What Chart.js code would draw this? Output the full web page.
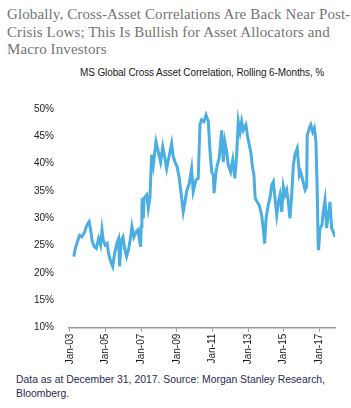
<!DOCTYPE html>
<html>
<head>
<meta charset="utf-8">
<script src="https://cdn.jsdelivr.net/npm/chart.js@4/dist/chart.umd.min.js"></script>
<style>
  html, body { margin: 0; padding: 0; background: #fff; }
  body { width: 351px; height: 408px; position: relative; overflow: hidden; }
  #title { position: absolute; left: 7px; top: 6px; width: 345px; font-family: "Liberation Serif", serif; font-size: 15px; letter-spacing: 0.12px; line-height: 17.5px; color: #747474; white-space: nowrap; }
  #subtitle { position: absolute; left: 0; top: 67px; width: 404px; text-align: center; font-family: "Liberation Sans", Arial, sans-serif; font-size: 10px; letter-spacing: -0.1px; color: #1a1a1a; white-space: nowrap; }
  #note { position: absolute; left: 16px; top: 373px; font-family: "Liberation Sans", Arial, sans-serif; font-size: 10.4px; line-height: 13.5px; color: #2a2a55; white-space: nowrap; }
  #wrap { position: absolute; left: 0; top: 95px; width: 351px; height: 275px; }
</style>
</head>
<body>
<div id="title">Globally, Cross-Asset Correlations Are Back Near Post-<br>Crisis Lows; This Is Bullish for Asset Allocators and<br>Macro Investors</div>
<div id="subtitle">MS Global Cross Asset Correlation, Rolling 6-Months, %</div>
<div id="wrap"><canvas id="c" width="351" height="275"></canvas></div>
<div id="note">Data as at December 31, 2017. Source: Morgan Stanley Research,<br>Bloomberg.</div>
<script>
const years = [
  2003.22, 2003.30, 2003.45, 2003.54, 2003.67, 2003.83, 2003.92, 2004.01, 2004.08, 2004.16,
  2004.24, 2004.35, 2004.48, 2004.61, 2004.72, 2004.80, 2004.87, 2004.98, 2005.09, 2005.17,
  2005.29, 2005.40, 2005.51, 2005.66, 2005.73, 2005.79, 2005.88, 2005.98, 2006.07, 2006.18,
  2006.30, 2006.41, 2006.48, 2006.59, 2006.71, 2006.82, 2006.89, 2006.97, 2007.00, 2007.04,
  2007.06, 2007.12, 2007.16, 2007.31, 2007.40, 2007.49, 2007.59, 2007.68, 2007.83, 2007.96,
  2008.09, 2008.21, 2008.33, 2008.43, 2008.58, 2008.71, 2008.80, 2008.90, 2009.02, 2009.14,
  2009.27, 2009.36, 2009.46, 2009.55, 2009.70, 2009.83, 2009.92, 2010.07, 2010.20, 2010.30,
  2010.39, 2010.52, 2010.64, 2010.77, 2010.86, 2010.96, 2011.05, 2011.09, 2011.20, 2011.27,
  2011.38, 2011.52, 2011.61, 2011.70, 2011.80, 2011.89, 2012.02, 2012.14, 2012.26, 2012.36,
  2012.45, 2012.55, 2012.64, 2012.73, 2012.88, 2012.96, 2013.07, 2013.15, 2013.26, 2013.33,
  2013.40, 2013.52, 2013.63, 2013.76, 2013.85, 2013.93, 2014.01, 2014.13, 2014.23, 2014.33,
  2014.42, 2014.51, 2014.61, 2014.70, 2014.79, 2014.89, 2014.98, 2015.07, 2015.17, 2015.26,
  2015.35, 2015.45, 2015.54, 2015.63, 2015.76, 2015.88, 2015.95, 2016.07, 2016.20, 2016.29,
  2016.32, 2016.44, 2016.52, 2016.63, 2016.72, 2016.81, 2016.89, 2016.93, 2016.96, 2017.04,
  2017.15, 2017.22, 2017.32, 2017.41, 2017.50, 2017.60, 2017.69, 2017.78, 2017.88
];
// MS Global Cross Asset Correlation, rolling 6 months, %
const correlation = [
  23.0, 24.5, 26.0, 26.9, 26.6, 27.5, 28.5, 29.1, 29.4, 27.9,
  26.0, 24.9, 24.5, 26.3, 25.1, 27.9, 26.0, 25.1, 25.4, 23.6,
  22.1, 21.2, 23.6, 25.7, 26.3, 21.2, 26.0, 26.6, 24.5, 23.0,
  24.5, 26.6, 28.5, 26.6, 27.5, 27.9, 26.3, 24.8, 28.5, 32.1,
  33.7, 30.0, 33.7, 34.3, 31.8, 33.7, 41.6, 39.7, 44.0, 42.2,
  40.3, 43.1, 41.0, 39.1, 41.6, 43.7, 41.3, 40.3, 39.4, 37.3,
  33.7, 31.2, 33.0, 34.9, 36.4, 39.1, 34.9, 37.0, 37.3, 47.1,
  48.0, 47.7, 48.9, 47.7, 42.5, 38.5, 37.9, 34.6, 38.5, 39.7,
  41.0, 46.1, 40.3, 44.0, 42.2, 39.7, 38.5, 40.7, 37.3, 41.6,
  47.7, 45.8, 47.7, 46.1, 47.1, 45.2, 43.4, 42.2, 39.1, 37.9,
  33.7, 33.0, 32.4, 30.6, 28.2, 25.4, 30.0, 32.4, 33.7, 36.1,
  36.7, 33.7, 30.6, 33.0, 34.3, 31.2, 35.8, 34.3, 35.2, 33.0,
  30.0, 34.3, 39.7, 41.6, 42.8, 37.9, 38.5, 37.0, 35.2, 35.8,
  45.2, 46.5, 47.1, 45.8, 46.5, 44.0, 33.7, 25.7, 24.2, 28.2,
  28.8, 31.2, 33.3, 28.2, 30.6, 33.0, 28.2, 27.6, 26.6
];
const tickYears = [2003, 2005, 2007, 2009, 2011, 2013, 2015, 2017];
const tickLabels = ['Jan-03', 'Jan-05', 'Jan-07', 'Jan-09', 'Jan-11', 'Jan-13', 'Jan-15', 'Jan-17'];
const yTicks = [10, 15, 20, 25, 30, 35, 40, 45, 50];

const points = years.map((x, i) => ({ x: x, y: correlation[i] }));

new Chart(document.getElementById('c'), {
  type: 'line',
  data: {
    datasets: [{
      data: points,
      borderColor: '#4aaee2',
      borderWidth: 3,
      pointRadius: 0,
      tension: 0,
      fill: false
    }]
  },
  options: {
    responsive: false,
    animation: false,
    events: [],
    layout: { padding: { left: 0, right: 16, top: 14, bottom: 0 } },
    plugins: { legend: { display: false }, tooltip: { enabled: false } },
    scales: {
      x: {
        type: 'linear',
        min: 2002.92,
        max: 2017.88,
        afterFit: s => { s.height = 42.3; },
        afterBuildTicks: s => { s.ticks = tickYears.map(v => ({ value: v })); },
        grid: { display: true, drawOnChartArea: false, drawTicks: true, tickLength: 4, color: '#9a9a9a', lineWidth: 1 },
        border: { display: true, color: '#9a9a9a', width: 1.5 },
        ticks: {
          autoSkip: false,
          maxRotation: 90,
          minRotation: 90,
          padding: 2,
          color: '#1a1a1a',
          font: { family: '"Liberation Sans", Arial, sans-serif', size: 10 },
          callback: v => { const i = tickYears.indexOf(v); return i >= 0 ? tickLabels[i] : ''; }
        }
      },
      y: {
        min: 10,
        max: 50,
        afterFit: s => { s.width = 68.5; },
        afterBuildTicks: s => { s.ticks = yTicks.map(v => ({ value: v })); },
        grid: { display: false },
        border: { display: false },
        ticks: {
          padding: 6.5,
          color: '#1a1a1a',
          font: { family: '"Liberation Sans", Arial, sans-serif', size: 10 },
          callback: v => v + '%'
        }
      }
    }
  }
});
</script>
</body>
</html>
